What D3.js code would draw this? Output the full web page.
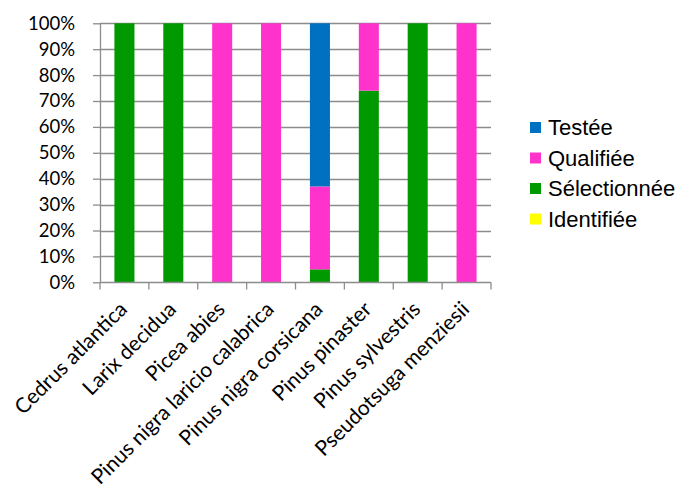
<!DOCTYPE html>
<html><head><meta charset="utf-8">
<script src="https://cdn.jsdelivr.net/npm/d3@7"></script>
<style>body{margin:0;background:#fff}svg{display:block}</style>
</head><body><svg id="c" width="678" height="496"></svg>
<script>
const categories = ["Cedrus atlantica","Larix decidua","Picea abies","Pinus nigra laricio calabrica","Pinus nigra corsicana","Pinus pinaster","Pinus sylvestris","Pseudotsuga menziesii"];
const identifiee  = [0,0,0,0,0,0,0,0];
const selectionnee = [100,100,0,0,5,74,100,0];
const qualifiee   = [0,0,100,100,32,26,0,100];
const testee      = [0,0,0,0,63,0,0,0];
const seriesNames = ["Identifiée","Sélectionnée","Qualifiée","Testée"];
const seriesColors = ["#FFFF00","#009900","#FF33CC","#0070C0"];
const yTicks = [0,10,20,30,40,50,60,70,80,90,100];

const seriesVals = [identifiee, selectionnee, qualifiee, testee];
const rows = categories.map((c,i)=>{const r={cat:c};seriesNames.forEach((s,j)=>r[s]=seriesVals[j][i]);return r;});
const stack = d3.stack().keys(seriesNames)(rows);

const svg = d3.select("#c");
const L=100,R=491,T=23.3,B=282.3;
const x = d3.scaleBand().domain(categories).range([L,R]).paddingInner(0.59).paddingOuter(0.295);
const xb = d3.scaleBand().domain(categories).range([L,R]);
const y = d3.scaleLinear().domain([0,100]).range([B,T]);
const font = "Lato, 'Open Sans', sans-serif";

// gridlines
svg.append("g").selectAll("line").data(yTicks.filter(t=>t>0)).join("line")
  .attr("x1",L).attr("x2",R).attr("y1",d=>Math.round(y(d))+0.5).attr("y2",d=>Math.round(y(d))+0.5)
  .attr("stroke","#8c8c8c").attr("stroke-width",1.3);

// bars
svg.append("g").selectAll("g").data(stack).join("g").attr("fill",(d,i)=>seriesColors[i])
  .selectAll("rect").data(d=>d).join("rect")
  .attr("x",d=>x(d.data.cat)).attr("width",x.bandwidth())
  .attr("y",d=>y(d[1])).attr("height",d=>y(d[0])-y(d[1]));

// y axis
const ya = svg.append("g").attr("transform",`translate(${L},0)`)
  .call(d3.axisLeft(y).tickValues(yTicks).tickSize(7).tickPadding(18).tickFormat(d=>d+"%"));
ya.select(".domain").attr("stroke","#8c8c8c").attr("stroke-width",1.3).attr("d",`M0.5,${T}V${B}`);
ya.selectAll(".tick line").attr("stroke","#8c8c8c").attr("stroke-width",1.3).attr("x2",-7);
ya.selectAll("text").attr("font-family",font).attr("font-size",18.5).attr("fill","#000");

// x axis
const xa = svg.append("g").attr("transform",`translate(0,${Math.round(B)+0.5})`);
xa.append("line").attr("x1",L).attr("x2",R).attr("stroke","#8c8c8c").attr("stroke-width",1.3);
const tickPos = categories.map(c=>xb(c)).concat([R]);
xa.selectAll(".tk").data(tickPos).join("line").attr("class","tk")
  .attr("x1",d=>d).attr("x2",d=>d).attr("y1",0).attr("y2",7).attr("stroke","#8c8c8c").attr("stroke-width",1.3);
xa.selectAll(".lbl").data(categories).join("text").attr("class","lbl")
  .attr("transform",d=>`translate(${xb(d)+xb.bandwidth()/2+4},28) rotate(-45)`)
  .attr("text-anchor","end")
  .attr("font-family",font).attr("font-size",21).attr("fill","#000").text(d=>d);

// legend
const legOrder = [3,2,1,0];
const lg = svg.append("g");
legOrder.forEach((si,k)=>{
  const yy = 127.5 + k*30.5;
  lg.append("rect").attr("x",530).attr("y",yy-5.5).attr("width",11).attr("height",11).attr("fill",seriesColors[si]);
  lg.append("text").attr("x",548).attr("y",yy).attr("dy","0.36em")
    .attr("font-family","'Liberation Sans', Arial, sans-serif").attr("font-size",22).attr("fill","#000").text(seriesNames[si]);
});
</script></body></html>
